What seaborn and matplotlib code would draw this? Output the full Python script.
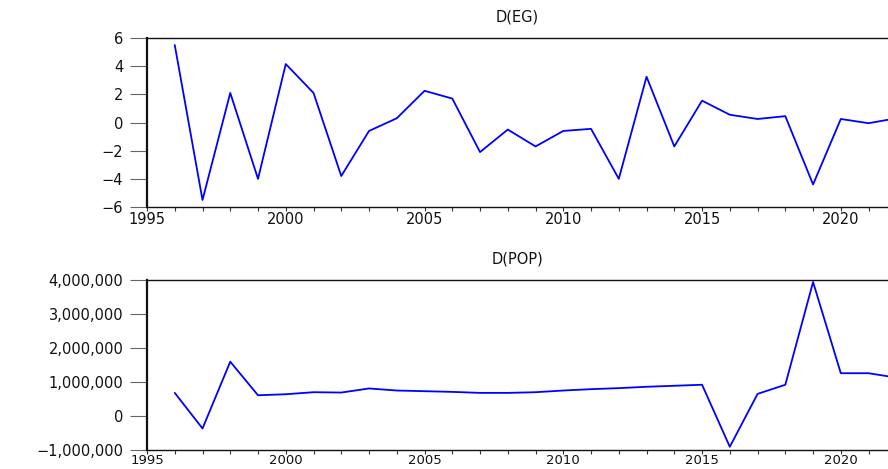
import numpy as np
import pandas as pd
import matplotlib
matplotlib.use("Agg")
import matplotlib.pyplot as plt
import matplotlib.ticker as mticker
import seaborn as sns

years = list(range(1996, 2023))
d_eg = [5.5, -5.5, 2.1, -4.0, 4.15, 2.1, -3.8, -0.6, 0.3, 2.25, 1.7, -2.1, -0.5,
        -1.7, -0.6, -0.45, -4.0, 3.25, -1.7, 1.55, 0.55, 0.25, 0.45, -4.4, 0.25,
        -0.05, 0.3]
d_pop = [670000, -380000, 1590000, 600000, 630000, 690000, 680000, 800000, 740000,
         720000, 700000, 670000, 670000, 690000, 740000, 780000, 810000, 850000,
         880000, 910000, -920000, 640000, 910000, 3940000, 1250000, 1250000,
         1120000]

titles = ["D(EG)", "D(POP)"]

df = pd.DataFrame({"year": years, "D(EG)": d_eg, "D(POP)": d_pop})

sns.set_style("ticks")
plt.rcParams["font.family"] = ["DejaVu Sans"]

W, H = 888, 469
fig = plt.figure(figsize=(W / 100, H / 100), dpi=100)

boxes = [(147, 38, 207), (147, 280, 449.5)]
ylims = [(-6, 6), (-1_000_000, 4_000_000)]
yticks = [[-6, -4, -2, 0, 2, 4, 6],
          [-1_000_000, 0, 1_000_000, 2_000_000, 3_000_000, 4_000_000]]
xlabel_sizes = [10.5, 9.5]

for i, (name, (x0, ytop, ybot)) in enumerate(zip(titles, boxes)):
    ax = fig.add_axes([x0 / W, 1 - ybot / H, (W - x0) / W, (ybot - ytop) / H])
    sns.lineplot(data=df, x="year", y=name, ax=ax, color="#0000ff", linewidth=1.3)
    ax.set_xlim(1995, 2021.7)
    ax.set_ylim(*ylims[i])
    ax.set_yticks(yticks[i])
    ax.set_xticks([1995, 2000, 2005, 2010, 2015, 2020])
    ax.xaxis.set_minor_locator(mticker.MultipleLocator(1))
    if i == 1:
        ax.yaxis.set_major_formatter(
            mticker.FuncFormatter(lambda v, p: f"{int(v):,}".replace("-", "\u2212")))
    ax.set_xlabel("")
    ax.set_ylabel("")
    ax.set_title(name, fontsize=10.5, pad=12, color="#111111")
    for s in ["top", "bottom", "left"]:
        ax.spines[s].set_visible(True)
        ax.spines[s].set_color("#111111")
    ax.spines["right"].set_visible(False)
    ax.spines["left"].set_linewidth(1.6)
    ax.spines["top"].set_linewidth(1.0)
    ax.spines["bottom"].set_linewidth(1.0)
    ax.tick_params(axis="y", direction="out", length=12, width=0.8,
                   color="#666666", pad=5, labelsize=10.5, labelcolor="#111111")
    ax.tick_params(axis="x", which="major", direction="out", length=3, width=0.8,
                   color="#333333", pad=0.5, labelsize=xlabel_sizes[i],
                   labelcolor="#111111")
    ax.tick_params(axis="x", which="minor", direction="out", length=3, width=0.8,
                   color="#333333")
    ax.grid(False)

fig.savefig("out.png", dpi=100)
